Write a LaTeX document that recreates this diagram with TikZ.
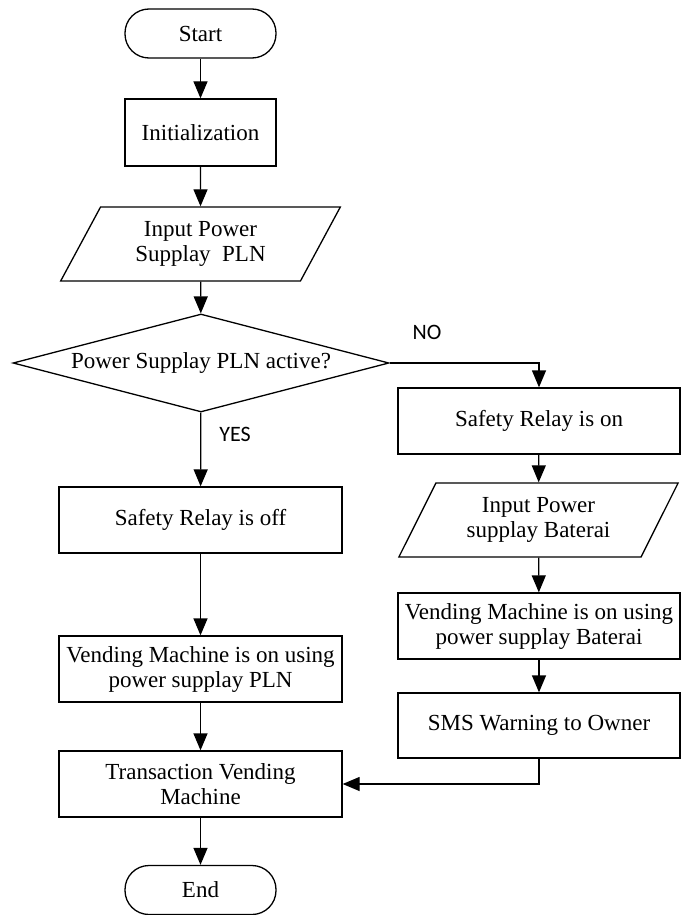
\documentclass[tikz,border=0pt]{standalone}
\usepackage{fontspec}
\setmainfont{Liberation Serif}
\newfontfamily\labelfont{Carlito}
\usetikzlibrary{shapes.geometric,arrows.meta}
\begin{document}
\begin{tikzpicture}[x=1pt,y=-1pt,
  every node/.style={font=\fontsize{23}{25}\selectfont, align=center, inner sep=0pt},
  box/.style={draw, line width=1.3pt, rectangle, minimum width=283pt, minimum height=66pt},
  term/.style={draw, line width=1.3pt, rectangle, rounded corners=24pt, minimum width=151pt, minimum height=49pt},
  io/.style={draw, line width=1.3pt, trapezium, trapezium left angle=60, trapezium right angle=120,
    trapezium stretches=true, minimum width=280pt, minimum height=74pt},
  decision/.style={draw, line width=1.3pt, diamond, aspect=3.84, minimum width=376pt, minimum height=98pt},
  lbl/.style={font=\labelfont\fontsize{22}{24}\selectfont},
  conn/.style={line width=1.3pt, -{Triangle[length=17pt,width=14pt]}}
]
\useasboundingbox (0,0) rectangle (690,915);

\node[term] (start) at (200.5,33.5) {Start};
\node[box, minimum width=151pt, minimum height=67pt] (init) at (200.5,132.5) {Initialization};
\node[io] (in1) at (200.5,244) {Input Power\\Supplay~ PLN};
\node[decision] (dec) at (201,363) {Power Supplay PLN active?};
\node[box] (off) at (200.5,520) {Safety Relay is off};
\node[box] (vpln) at (200.5,669) {Vending Machine is on using\\power supplay PLN};
\node[box] (trans) at (200.5,784) {Transaction Vending\\Machine};
\node[term] (end) at (200.5,890) {End};

\node[box, minimum width=282pt] (on) at (539,421) {Safety Relay is on};
\node[io] (in2) at (538.5,520) {Input Power\\supplay Baterai};
\node[box, minimum width=282pt] (vbat) at (539,626) {Vending Machine is on using\\power supplay Baterai};
\node[box, minimum width=282pt, minimum height=65pt] (sms) at (539,725.5) {SMS Warning to Owner};

\node[lbl] (no) at (427,332) {NO};
\node[lbl] (yes) at (235,434) {YES};

\draw[conn] (start) -- (init);
\draw[conn] (init) -- (in1);
\draw[conn] (in1) -- (dec);
\draw[conn] (dec) -- (off);
\draw[conn] (off) -- (vpln);
\draw[conn] (vpln) -- (trans);
\draw[conn] (trans) -- (end);
\draw[conn] (dec.east) -| (on.north);
\draw[conn] (on) -- (in2);
\draw[conn] (in2) -- (vbat);
\draw[conn] (vbat) -- (sms);
\draw[conn] (sms.south) |- (trans.east);
\end{tikzpicture}
\end{document}
